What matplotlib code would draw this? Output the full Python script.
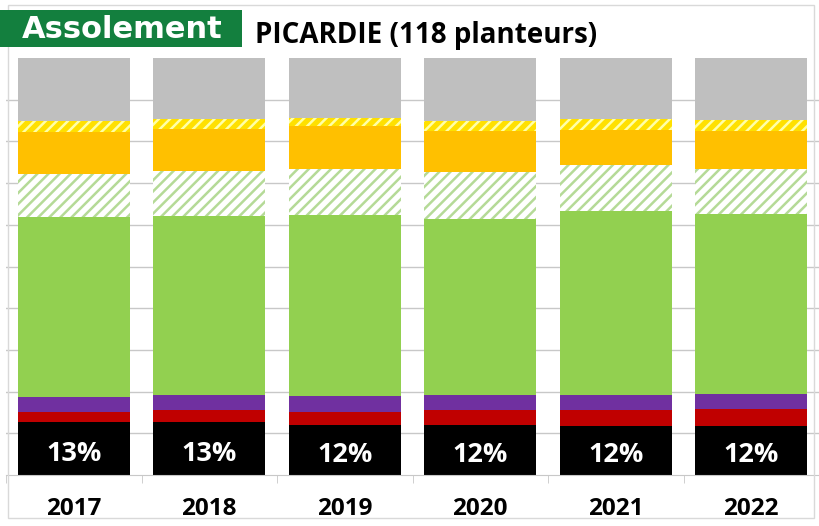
import matplotlib.pyplot as plt
from matplotlib.patches import Rectangle

plt.rcParams['font.family'] = ['Open Sans', 'DejaVu Sans']
plt.rcParams['hatch.linewidth'] = 1.8

# Données (% de la SAU, de bas en haut)
annees = ['2017', '2018', '2019', '2020', '2021', '2022']
betteraves = [12.6, 12.6, 11.9, 11.9, 11.8, 11.8]
rouge = [2.4, 3.0, 3.1, 3.7, 3.8, 4.0]
violet = [3.6, 3.6, 3.9, 3.6, 3.6, 3.6]
ble = [43.2, 43.0, 43.4, 42.3, 44.2, 43.2]
orge = [10.4, 10.8, 11.2, 11.1, 10.9, 10.8]
colza = [10.0, 10.0, 10.2, 10.0, 8.4, 9.2]
jaune_hachure = [2.8, 2.4, 1.8, 2.4, 2.7, 2.5]
autres = [15.0, 14.6, 14.5, 15.0, 14.6, 14.9]

series = [
    (betteraves, '#000000', None, None),
    (rouge, '#C00000', None, None),
    (violet, '#7030A0', None, None),
    (ble, '#92D050', None, None),
    (orge, '#FFFFFF', '#B5DA97', '///'),
    (colza, '#FFC000', None, None),
    (jaune_hachure, '#FFE000', '#FFFFA8', '///'),
    (autres, '#BFBFBF', None, None),
]

fig = plt.figure(figsize=(8.19, 5.26), dpi=100)
ax = fig.add_axes([6 / 819, 1 - 475 / 526, 813 / 819, 417 / 526])

x = list(range(len(annees)))
bas = [0.0] * len(annees)
for valeurs, couleur, hcouleur, hachure in series:
    if hachure:
        ax.bar(x, valeurs, bottom=bas, width=0.83, color=couleur,
               edgecolor=hcouleur, linewidth=0, hatch=hachure, zorder=2)
    else:
        ax.bar(x, valeurs, bottom=bas, width=0.83, color=couleur,
               linewidth=0, zorder=2)
    bas = [b + v for b, v in zip(bas, valeurs)]

# Étiquettes dans les barres noires
for i, v in enumerate(betteraves):
    ax.text(i, v / 2 - 1.2, f"{round(v)}%", ha='center', va='center',
            color='white', fontsize=19.5, fontweight='bold', zorder=3)

ax.set_xlim(-0.5, len(annees) - 0.5)
ax.set_ylim(0, 100)
ax.set_yticks(range(10, 100, 10))
ax.yaxis.grid(True, color='#C8C8C8', linewidth=1)
ax.set_axisbelow(True)
ax.tick_params(axis='y', left=False, labelleft=False)

ax.set_xticks(x)
ax.set_xticklabels(annees, fontsize=17.5, fontweight='bold')
ax.tick_params(axis='x', length=0, pad=16)
ax.set_xticks([i + 0.5 for i in range(-1, len(annees))], minor=True)
ax.tick_params(axis='x', which='minor', length=6, color='#C8C8C8')

for s in ['top', 'right', 'left']:
    ax.spines[s].set_visible(False)
ax.spines['bottom'].set_color('#C8C8C8')

# Cadre et titre
fig.patches.append(Rectangle((8 / 819, 8 / 526), 806 / 819, 513 / 526,
                             transform=fig.transFigure, fill=False,
                             edgecolor='#D9D9D9', linewidth=1, zorder=0))
fig.patches.append(Rectangle((0, 1 - 47 / 526), 242 / 819, 37 / 526,
                             transform=fig.transFigure, facecolor='#137F3E',
                             edgecolor='none', zorder=1))
fig.text(122 / 819, 1 - 29 / 526, 'Assolement', ha='center', va='center',
         color='white', fontsize=22, fontweight='bold', family='DejaVu Sans')
fig.text(255 / 819, 1 - 35 / 526, 'PICARDIE (118 planteurs)', ha='left',
         va='center', color='black', fontsize=20, fontweight='bold')

fig.savefig('out.png', dpi=100)
